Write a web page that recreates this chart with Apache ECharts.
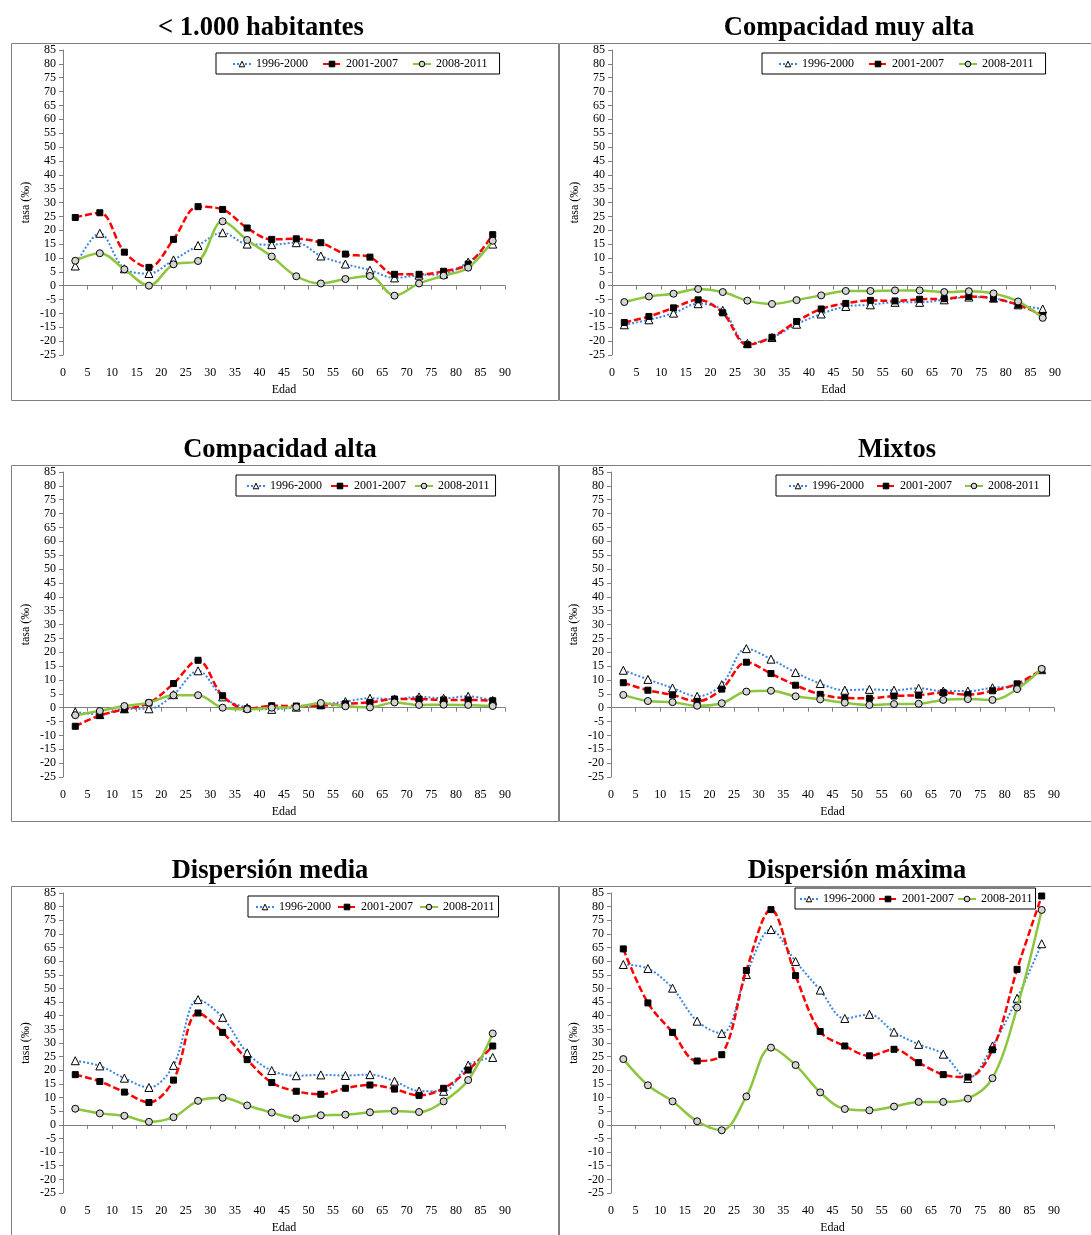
<!DOCTYPE html>
<html>
<head>
<meta charset="utf-8">
<script src="https://cdn.jsdelivr.net/npm/echarts/dist/echarts.min.js"></script>
<style>
html,body{margin:0;padding:0;background:#fff;}
#main{width:1091px;height:1235px;}
</style>
</head>
<body>
<div id="main"></div>
<script>
// edades (marca de clase de cada grupo quinquenal)
var edades = [2.5,7.5,12.5,17.5,22.5,27.5,32.5,37.5,42.5,47.5,52.5,57.5,62.5,67.5,72.5,77.5,82.5,87.5];
var periodos = ['1996-2000','2001-2007','2008-2011'];
var titulos = ['< 1.000 habitantes','Compacidad muy alta','Compacidad alta','Mixtos','Dispersión media','Dispersión máxima'];

// < 1.000 habitantes
var hab_9600 = [7.1,18.9,6.1,4.4,9.3,14.5,19.1,15.0,14.8,15.5,10.7,7.8,5.6,2.8,3.8,4.2,8.5,15.0];
var hab_0107 = [24.6,26.3,12.1,6.6,16.7,28.5,27.5,20.8,16.7,16.9,15.5,11.4,10.3,4.1,4.1,5.2,7.8,18.4];
var hab_0811 = [9.0,11.7,5.9,0.0,7.7,8.9,23.2,16.5,10.5,3.4,0.8,2.4,3.5,-3.6,0.8,3.6,6.5,16.2];
// Compacidad muy alta
var cmuy_9600 = [-14.1,-12.3,-9.9,-6.5,-8.9,-20.8,-18.7,-13.9,-10.2,-7.5,-6.9,-6.0,-6.0,-5.1,-4.1,-4.5,-6.9,-8.4];
var cmuy_0107 = [-13.3,-11.1,-8.0,-5.1,-9.8,-21.3,-18.6,-12.9,-8.4,-6.4,-5.3,-5.5,-4.9,-4.7,-3.9,-4.6,-6.9,-10.7];
var cmuy_0811 = [-5.9,-3.9,-2.9,-1.2,-2.3,-5.4,-6.6,-5.2,-3.5,-1.9,-1.9,-1.7,-1.7,-2.3,-2.0,-2.8,-5.7,-11.6];
// Compacidad alta
var calta_9600 = [-1.5,-2.5,-0.4,-0.4,4.7,13.3,3.9,0.0,-0.6,0.2,1.1,2.2,3.4,3.1,3.9,3.4,4.1,2.6];
var calta_0107 = [-6.7,-2.8,-0.6,1.7,8.7,17.1,4.3,-0.4,0.7,0.6,0.7,1.4,1.9,3.1,3.1,2.8,2.8,2.5];
var calta_0811 = [-2.7,-1.2,0.6,1.8,4.5,4.5,0.0,-0.6,0.0,0.2,1.7,0.5,0.1,1.9,1.0,1.1,1.0,0.6];
// Mixtos
var mix_9600 = [13.5,10.2,7.1,4.1,8.3,21.3,17.5,12.7,8.7,6.3,6.6,6.3,7.0,6.0,6.0,7.2,8.1,13.7];
var mix_0107 = [9.0,6.3,4.6,2.3,6.7,16.4,12.3,8.1,4.8,3.5,3.4,4.2,4.5,5.4,4.7,6.1,8.6,13.7];
var mix_0811 = [4.6,2.4,2.0,0.7,1.6,5.8,6.1,4.1,3.0,1.8,1.0,1.3,1.4,2.8,3.1,2.8,6.7,14.0];
// Dispersión media
var dmed_9600 = [23.5,21.6,17.1,13.7,21.8,45.9,39.4,26.4,19.9,18.0,18.3,18.1,18.4,16.0,12.4,12.3,21.9,24.7];
var dmed_0107 = [18.4,15.9,12.0,8.2,16.4,41.0,33.9,23.9,15.5,12.3,11.2,13.4,14.6,13.1,10.8,13.4,20.1,28.9];
var dmed_0811 = [5.9,4.2,3.3,1.1,2.8,8.8,9.9,7.1,4.5,2.4,3.5,3.7,4.6,5.1,4.7,8.6,16.4,33.5];
// Dispersión máxima
var dmax_9600 = [58.8,57.3,50.1,38.0,33.5,55.1,71.6,59.9,49.4,39.0,40.5,34.0,29.5,25.9,17.0,28.9,46.4,66.4];
var dmax_0107 = [64.5,44.7,33.9,23.4,25.7,56.6,78.9,54.7,34.2,28.9,25.3,27.7,22.8,18.4,17.5,27.5,57.0,83.9];
var dmax_0811 = [24.1,14.5,8.6,1.3,-2.0,10.4,28.3,21.9,11.9,5.8,5.3,6.7,8.4,8.4,9.6,17.1,43.0,78.8];

var paneles = [
    [hab_9600, hab_0107, hab_0811],
    [cmuy_9600, cmuy_0107, cmuy_0811],
    [calta_9600, calta_0107, calta_0811],
    [mix_9600, mix_0107, mix_0811],
    [dmed_9600, dmed_0107, dmed_0811],
    [dmax_9600, dmax_0107, dmax_0811]
];

// posiciones (left, top, width) de cada grafico
var grids = [[63,50,442],[612,50,443],[63,472,442],[611,472,443],[63,893,442],[611,893,443]];
var cajas = [[9,41,547,357],[557,41,533,357],[9,463,547,356],[557,463,533,356],[9,884,547,360],[557,884,533,360]];
var posTitulos = [[261,15],[849,15],[280,437],[897,437],[270,858],[857,858]];
// left, top, padding, itemGap de las leyendas
var leyendas = [
    [216,53,[5,12,4,16],14],
    [762,53,[5,12,4,16],14],
    [236,475,[5,6,4,10],8],
    [776,475,[5,10,4,12],12],
    [248,896,[5,4,4,7],6],
    [795,888,[5,3,4,4],3]
];

var estilos = [
    {symbol:'triangle', size:8, color:'#3d85e0', type:[2,2], width:2, fill:'#ffffff'},
    {symbol:'rect', size:6, color:'#ff0000', type:[7,3], width:2.5, fill:'#000000'},
    {symbol:'circle', size:7, color:'#8cc63e', type:'solid', width:2.5, fill:'#d4d4d4'}
];

var fuente = 'Liberation Serif, Times New Roman, serif';

var option = {
    animation:false,
    backgroundColor:'#fff',
    textStyle:{fontFamily:fuente, color:'#000'},
    title:[], legend:[], grid:[], xAxis:[], yAxis:[], series:[], graphic:[]
};

for(var i=0;i<paneles.length;i++){
    var c = cajas[i];
    option.graphic.push({
        type:'rect', left:c[0], top:c[1], silent:true, z:-1,
        shape:{width:c[2], height:c[3]},
        style:{fill:'none', stroke:'#808080', lineWidth:1}
    });
    option.title.push({
        text:titulos[i], left:posTitulos[i][0], top:posTitulos[i][1], textAlign:'center', padding:0,
        textStyle:{fontFamily:fuente, fontSize:26.5, fontWeight:'bold', color:'#000'}
    });
    var l = leyendas[i];
    option.legend.push({
        data:periodos, left:l[0], top:l[1], padding:l[2], itemGap:l[3],
        itemWidth:18, itemHeight:7, borderColor:'#000', borderWidth:1, selectedMode:false,
        itemStyle:{borderWidth:1},
        textStyle:{fontFamily:fuente, fontSize:12, color:'#000'}
    });
    var g = grids[i];
    option.grid.push({left:g[0], top:g[1], width:g[2], height:305});
    // eje inferior con etiquetas
    option.xAxis.push({
        type:'value', gridIndex:i, min:0, max:90, interval:5, position:'bottom',
        name:'Edad', nameLocation:'middle', nameGap:29,
        nameTextStyle:{fontFamily:fuente, fontSize:12, color:'#000'},
        axisLine:{show:false, onZero:false}, axisTick:{show:false}, splitLine:{show:false},
        axisLabel:{fontFamily:fuente, fontSize:12, color:'#000', margin:12}
    });
    // linea del cero con marcas
    option.xAxis.push({
        type:'value', gridIndex:i, min:0, max:90, interval:5, position:'top',
        axisLine:{show:true, onZero:true, lineStyle:{color:'#7f7f7f', width:1}},
        axisTick:{show:true, inside:true, length:4, lineStyle:{color:'#7f7f7f'}},
        axisLabel:{show:false}, splitLine:{show:false}
    });
    option.yAxis.push({
        type:'value', gridIndex:i, min:-25, max:85, interval:5,
        name:'tasa (‰)', nameLocation:'middle', nameGap:31,
        nameTextStyle:{fontFamily:fuente, fontSize:12, color:'#000'},
        axisLine:{show:true, lineStyle:{color:'#7f7f7f', width:1}},
        axisTick:{show:true, length:4, lineStyle:{color:'#7f7f7f'}},
        splitLine:{show:false},
        axisLabel:{fontFamily:fuente, fontSize:12, color:'#000', margin:7}
    });
    for(var s=0;s<3;s++){
        var est = estilos[s];
        var datos = [];
        for(var k=0;k<edades.length;k++){
            datos.push([edades[k], paneles[i][s][k]]);
        }
        option.series.push({
            name:periodos[s], type:'line', xAxisIndex:2*i, yAxisIndex:i,
            data:datos, smooth:0.35, symbol:est.symbol, symbolSize:est.size, showSymbol:true,
            lineStyle:{color:est.color, width:est.width, type:est.type},
            itemStyle:{color:est.fill, borderColor:'#000', borderWidth:1},
            emphasis:{disabled:true}, z:2+s
        });
    }
}

var chart = echarts.init(document.getElementById('main'));
chart.setOption(option);
window.addEventListener('resize', function(){ chart.resize(); });
</script>
</body>
</html>
